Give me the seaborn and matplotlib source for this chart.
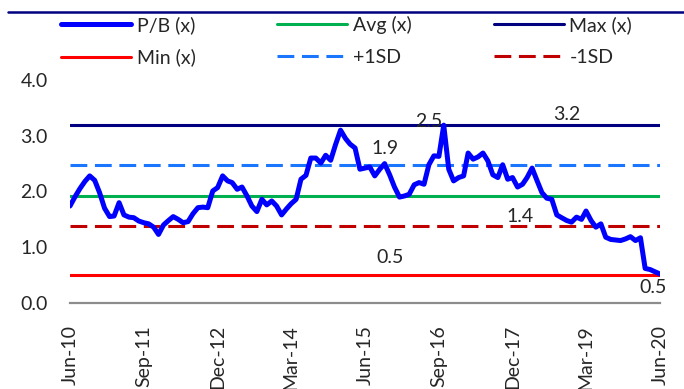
import matplotlib
matplotlib.use('Agg')
import numpy as np
import pandas as pd
import seaborn as sns
import matplotlib.pyplot as plt
from matplotlib.lines import Line2D

# ---------------- data ----------------
pb = [1.74, 1.90, 2.05, 2.18, 2.28, 2.20, 1.98, 1.70, 1.55, 1.56,
      1.80, 1.58, 1.54, 1.53, 1.47, 1.44, 1.42, 1.36, 1.23, 1.40,
      1.48, 1.55, 1.50, 1.44, 1.46, 1.60, 1.71, 1.72, 1.71, 2.01,
      2.07, 2.28, 2.19, 2.16, 2.04, 2.08, 1.92, 1.74, 1.64, 1.86,
      1.76, 1.83, 1.74, 1.58, 1.69, 1.78, 1.86, 2.22, 2.29, 2.60,
      2.60, 2.51, 2.65, 2.56, 2.84, 3.10, 2.95, 2.85, 2.78, 2.40,
      2.42, 2.44, 2.28, 2.40, 2.50, 2.30, 2.08, 1.90, 1.92, 1.95,
      2.12, 2.16, 2.13, 2.48, 2.64, 2.63, 3.19, 2.40, 2.19, 2.25,
      2.28, 2.69, 2.58, 2.62, 2.69, 2.55, 2.30, 2.25, 2.48, 2.22,
      2.25, 2.08, 2.13, 2.25, 2.42, 2.20, 1.98, 1.88, 1.86, 1.58,
      1.53, 1.48, 1.45, 1.54, 1.50, 1.65, 1.48, 1.36, 1.42, 1.18,
      1.14, 1.13, 1.12, 1.15, 1.19, 1.12, 1.17, 0.62, 0.60, 0.56,
      0.52]
dates = pd.date_range('2010-06-01', periods=len(pb), freq='MS')

avg_val = 1.92
max_val = 3.2
min_val = 0.5
sd_plus = 2.47
sd_minus = 1.39

tick_labels = ['Jun-10', 'Sep-11', 'Dec-12', 'Mar-14', 'Jun-15',
               'Sep-16', 'Dec-17', 'Mar-19', 'Jun-20']
label_texts = ['2.5', '3.2', '1.9', '1.4', '0.5', '0.5']

df = pd.DataFrame({'date': dates, 'pb': pb})

# ---------------- plot ----------------
sns.set_style('white')
plt.rcParams['font.family'] = ['Lato', 'DejaVu Sans']

W, H = 684, 389
fig = plt.figure(figsize=(W / 100, H / 100), dpi=100)
ax = fig.add_axes([70 / W, (H - 303) / H, 590 / W, 223 / H])

n = len(dates)
dash = (0, (5.5, 2.5))
h_pb = sns.lineplot(data=df, x='date', y='pb', ax=ax, color='#0000FF', lw=3.6,
                    zorder=5).lines[0]
h_avg, = ax.plot(dates, [avg_val] * n, color='#00B050', lw=2.2)
h_max, = ax.plot(dates, [max_val] * n, color='#000080', lw=2.2)
h_min, = ax.plot(dates, [min_val] * n, color='#FF0000', lw=2.2)
h_sdp, = ax.plot(dates, [sd_plus] * n, color='#1A75FF', lw=2.2, ls=dash)
h_sdm, = ax.plot(dates, [sd_minus] * n, color='#C00000', lw=2.2, ls=dash)

ax.set_xlim(dates[0], dates[-1])
ax.set_ylim(0, 4)
ax.set_yticks([0, 1, 2, 3, 4])
ax.set_yticklabels(['%.1f' % v for v in [0, 1, 2, 3, 4]], fontsize=14)
ax.set_xticks(dates[::15])
ax.set_xticklabels(tick_labels, rotation=90, fontsize=14)
ax.tick_params(axis='y', length=0, pad=16)
ax.tick_params(axis='x', length=0, pad=16)
ax.set_xlabel('')
ax.set_ylabel('')

for s in ['top', 'right', 'left']:
    ax.spines[s].set_visible(False)
ax.spines['bottom'].set_color('#8C8C8C')
ax.spines['bottom'].set_linewidth(1.6)

# data labels (Excel-style)
lab_pos = [(73, 3.25), (101, 3.38), (64, 2.77), (91.5, 1.56), (65, 0.82), (118.6, 0.28)]
for t, (m, v) in zip(label_texts, lab_pos):
    xd = dates[0] + pd.DateOffset(months=int(m)) + pd.Timedelta(days=int((m % 1) * 30))
    ax.text(xd, v, t, fontsize=14, ha='center', va='center', zorder=6)

# legend: column-major order so rows read P/B, Avg, Max / Min, +1SD, -1SD
handles = [h_pb, h_min, h_avg, h_sdp, h_max, h_sdm]
labels = ['P/B (x)', 'Min (x)', 'Avg (x)', '+1SD', 'Max (x)', '-1SD']
fig.legend(handles, labels, loc='upper left', bbox_to_anchor=(61 / W, 1 - 16 / H),
           ncol=3, frameon=False, fontsize=14, handlelength=3.6,
           columnspacing=4.2, handletextpad=0.3, labelspacing=0.75,
           borderpad=0, borderaxespad=0)

# title rule at top
fig.add_artist(Line2D([8 / W, 1.0], [1 - 12 / H, 1 - 12 / H],
                      color='#000080', lw=1.8, transform=fig.transFigure))

fig.savefig('out.png', dpi=100)
